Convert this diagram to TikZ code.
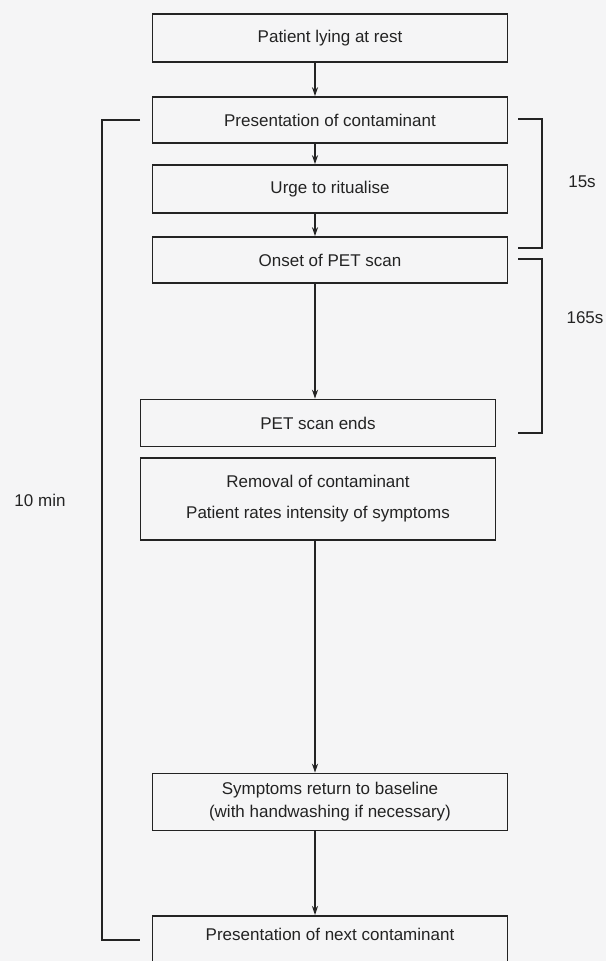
\documentclass[tikz,border=0pt]{standalone}
\usepackage{fontspec}
\setmainfont{Liberation Sans}
\usetikzlibrary{arrows.meta}
\definecolor{paper}{RGB}{245,245,246}
\definecolor{ink}{RGB}{35,35,35}
\begin{document}
\begin{tikzpicture}[x=1pt,y=-1pt,every node/.style={font=\fontsize{17}{20}\selectfont,text=ink},
  stage/.style={draw=ink,line width=1.6pt,minimum width=355pt,inner sep=0pt,align=center},
  flow/.style={draw=ink,line width=1.2pt,-{Stealth[length=9pt,width=6pt]}},
  span/.style={draw=ink,line width=1.3pt}]
\fill[paper] (0,0) rectangle (606,961); \clip (0,0) rectangle (606,961);
\coordinate (spine) at (315,0);
% upper boxes
\node[stage,minimum height=48pt] (rest) at (330,38) {Patient lying at rest};
\node[stage,minimum height=46pt] (pres) at (330,120) {Presentation of contaminant};
\node[stage,minimum height=48pt] (urge) at (330,189) {Urge to ritualise};
\node[stage,minimum height=46pt] (onset) at (330,260) {Onset of PET scan};
% lower boxes
\node[stage,minimum height=47pt] (petend) at (318,423) {PET scan ends};
\node[stage,minimum height=82pt,font=\fontsize{17}{31}\selectfont] (removal) at (318,499) {Removal of contaminant\\Patient rates intensity of symptoms};
\node[stage,minimum height=57pt,font=\fontsize{17}{23}\selectfont] (baseline) at (330,802) {Symptoms return to baseline\\(with handwashing if necessary)};
\node[stage,anchor=north,inner ysep=12pt,text depth=40pt] (next) at (330,915) {Presentation of next contaminant};
% arrows
\draw[flow] (rest.south -| spine)--(pres.north -| spine);
\draw[flow] (pres.south -| spine)--(urge.north -| spine);
\draw[flow] (urge.south -| spine)--(onset.north -| spine);
\draw[flow] (onset.south -| spine)--(petend.north -| spine);
\draw[flow] (removal.south -| spine)--(baseline.north -| spine);
\draw[flow] (baseline.south -| spine)--(next.north -| spine);
% timing brackets
\draw[span] (518,119)--(542,119)--(542,248)--(518,248); \node (fifteen) at (582,182) {15s};
\draw[span] (518,259)--(542,259)--(542,433)--(518,433); \node (rest165) at (585,318) {165s};
\draw[span] (140,120)--(102,120)--(102,940)--(140,940); \node (tenmin) at (40,500) {10 min};
\end{tikzpicture}
\end{document}
